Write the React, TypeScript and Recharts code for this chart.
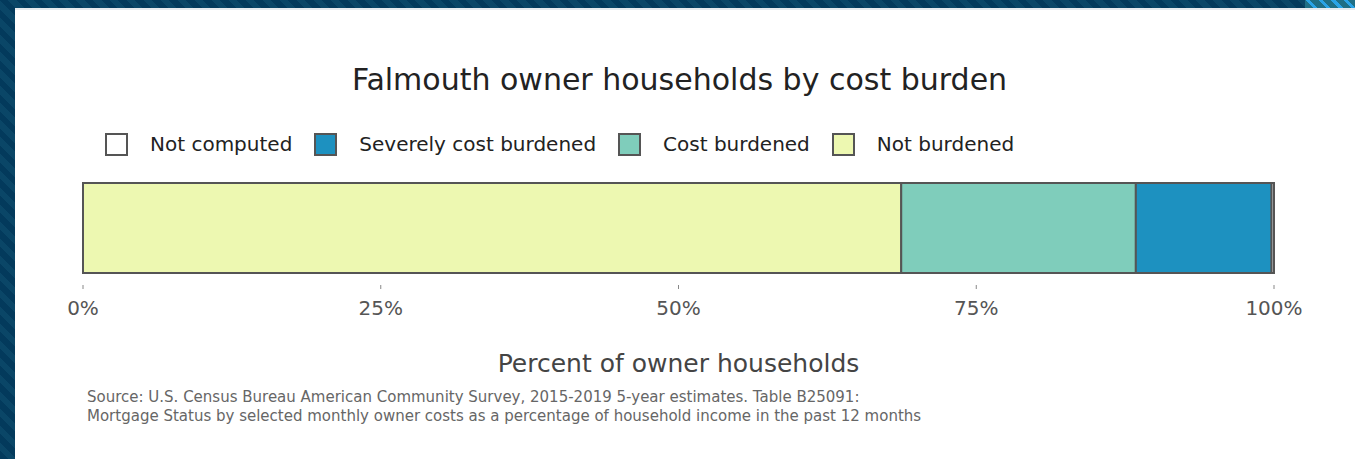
import React from 'react';
import { BarChart, Bar, XAxis, YAxis } from 'recharts';

const categories = ['Falmouth'];
const notBurdened = [68.7];
const costBurdened = [19.7];
const severelyBurdened = [11.4];
const notComputed = [0.2];
const xTicks = [0, 25, 50, 75, 100];

const data = categories.map((name, i) => ({
  name,
  notBurdened: notBurdened[i],
  costBurdened: costBurdened[i],
  severely: severelyBurdened[i],
  notComputed: notComputed[i],
}));

// legend is listed in reverse of stack order
const legendItems = [
  { label: 'Not computed', color: '#ffffff' },
  { label: 'Severely cost burdened', color: '#1d91c0' },
  { label: 'Cost burdened', color: '#7fcdbb' },
  { label: 'Not burdened', color: '#edf8b1' },
];

const FONT = '"DejaVu Sans", Verdana, sans-serif';
const EDGE = '#555555';

const ChartLegend = () => (
  <div
    style={{
      position: 'absolute',
      left: 105,
      top: 132,
      display: 'flex',
      alignItems: 'center',
      fontFamily: FONT,
      fontSize: 20,
      color: '#222',
    }}
  >
    {legendItems.map((it) => (
      <div key={it.label} style={{ display: 'flex', alignItems: 'center', marginRight: 22 }}>
        <span
          style={{
            display: 'inline-block',
            width: 19,
            height: 19,
            background: it.color,
            border: `2px solid ${EDGE}`,
            marginRight: 22,
          }}
        />
        <span>{it.label}</span>
      </div>
    ))}
  </div>
);

const XTick = (props: any) => {
  const { x, y, payload } = props;
  return (
    <g>
      <line x1={x} x2={x} y1={y + 12} y2={y + 16} stroke="#888" strokeWidth={1} />
      <text x={x} y={y + 42} textAnchor="middle" fill="#555" fontSize={20} fontFamily={FONT}>
        {payload.value}%
      </text>
    </g>
  );
};

export default function App() {
  return (
    <div
      style={{
        position: 'absolute',
        left: 0,
        top: 0,
        width: 1355,
        height: 459,
        overflow: 'hidden',
        background: 'repeating-linear-gradient(45deg, #033a5c 0px, #033a5c 6px, #0a4667 6px, #0a4667 12px)',
      }}
    >
      <div
        style={{
          position: 'absolute',
          right: 0,
          top: 0,
          width: 50,
          height: 8,
          background: 'repeating-linear-gradient(45deg, #1f6f86 0px, #1f6f86 6px, #2aa3e6 6px, #2aa3e6 9px)',
        }}
      />
      <div
        style={{
          position: 'absolute',
          left: 15,
          top: 8,
          right: 0,
          bottom: 0,
          background: '#ffffff',
          borderTop: '2px solid #e6eaee',
        }}
      />
      <div
        style={{
          position: 'absolute',
          left: 0,
          top: 62,
          width: 1355,
          textAlign: 'center',
          fontFamily: FONT,
          fontSize: 30,
          lineHeight: '36px',
          color: '#222',
          paddingLeft: 2,
        }}
      >
        Falmouth owner households by cost burden
      </div>
      <ChartLegend />
      <div style={{ position: 'absolute', left: 0, top: 0 }}>
        <BarChart
          width={1355}
          height={459}
          data={data}
          layout="vertical"
          barCategoryGap={0}
          margin={{ top: 183, right: 81, bottom: 86, left: 83 }}
        >
          <XAxis
            type="number"
            domain={[0, 100]}
            ticks={xTicks}
            axisLine={false}
            tickLine={false}
            tickSize={0}
            tickMargin={0}
            height={100}
            tick={<XTick />}
            interval={0}
            label={{
              value: 'Percent of owner households',
              position: 'insideBottom',
              offset: 1,
              fill: '#444',
              fontSize: 25,
              fontFamily: FONT,
            }}
          />
          <YAxis type="category" dataKey="name" hide />
          <Bar dataKey="notBurdened" stackId="a" fill="#edf8b1" stroke={EDGE} strokeWidth={2} isAnimationActive={false} />
          <Bar dataKey="costBurdened" stackId="a" fill="#7fcdbb" stroke={EDGE} strokeWidth={2} isAnimationActive={false} />
          <Bar dataKey="severely" stackId="a" fill="#1d91c0" stroke={EDGE} strokeWidth={2} isAnimationActive={false} />
          <Bar dataKey="notComputed" stackId="a" fill="#ffffff" stroke={EDGE} strokeWidth={2} isAnimationActive={false} />
        </BarChart>
      </div>
      <div
        style={{
          position: 'absolute',
          left: 87,
          top: 388,
          fontFamily: FONT,
          fontSize: 15,
          lineHeight: '19px',
          color: '#666',
          whiteSpace: 'nowrap',
        }}
      >
        Source: U.S. Census Bureau American Community Survey, 2015-2019 5-year estimates. Table B25091:
        <br />
        Mortgage Status by selected monthly owner costs as a percentage of household income in the past 12 months
      </div>
    </div>
  );
}
